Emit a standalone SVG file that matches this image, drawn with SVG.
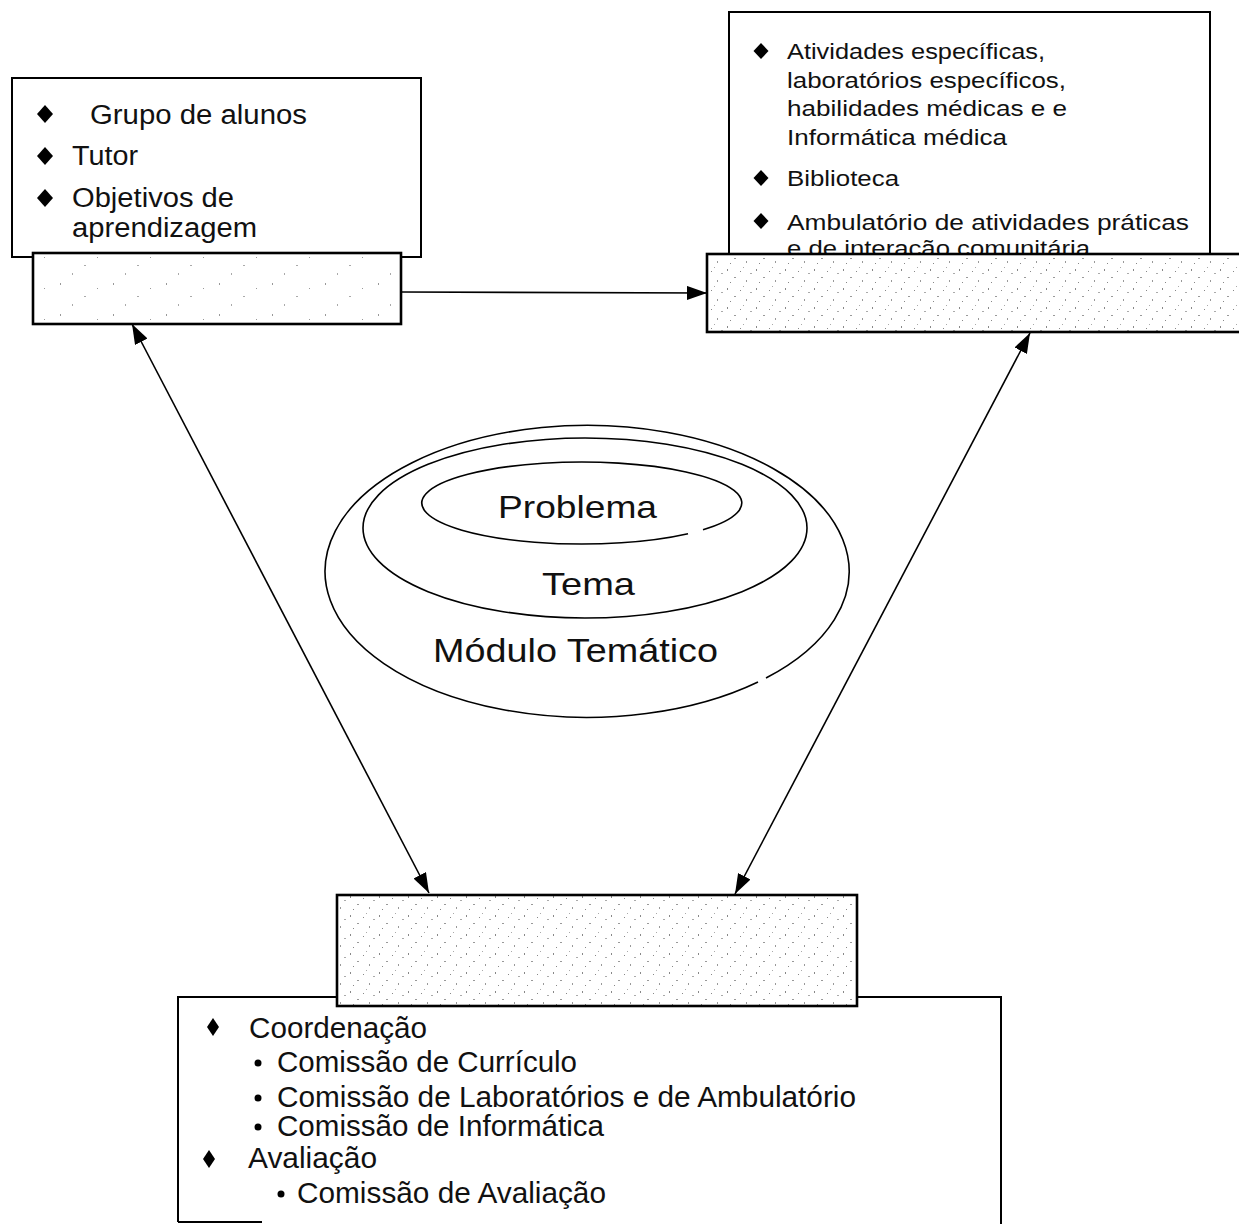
<svg xmlns="http://www.w3.org/2000/svg" width="1239" height="1224" viewBox="0 0 1239 1224">
  <style>
    .box { fill: #fff; stroke: #000; stroke-width: 2; }
    .shade { stroke: #000; stroke-width: 2.6; }
    .light { fill: url(#stippleLight); }
    .dense { fill: url(#stippleDense); }
    .t { font-family: "Liberation Sans", Arial, sans-serif; fill: #111; }
    .bullet { fill: #000; }
    .ring { fill: none; stroke: #000; stroke-width: 1.6; }
    .link { fill: none; stroke: #000; stroke-width: 1.6; }
  </style>
  <defs>
    <marker id="head" viewBox="0 0 20 14" markerUnits="userSpaceOnUse" markerWidth="20" markerHeight="14" refX="20" refY="7" orient="auto-start-reverse">
      <path d="M0,0 L20,7 L0,14 Z" fill="#000"/>
    </marker>
    <pattern id="stippleLight" width="53" height="31" patternUnits="userSpaceOnUse">
      <rect width="53" height="31" fill="#fff"/>
      <rect x="7" y="4" width="1" height="2" fill="#999"/>
      <rect x="31" y="17" width="2" height="1" fill="#aaa"/>
      <rect x="44" y="9" width="1" height="1" fill="#999"/>
      <rect x="19" y="25" width="1" height="2" fill="#aaa"/>
    </pattern>
    <pattern id="stippleDense" width="29" height="19" patternUnits="userSpaceOnUse">
      <rect width="29" height="19" fill="#fff"/>
      <rect x="2" y="3" width="1" height="2" fill="#888"/>
      <rect x="9" y="11" width="2" height="1" fill="#999"/>
      <rect x="15" y="5" width="1" height="1" fill="#888"/>
      <rect x="21" y="14" width="1" height="2" fill="#999"/>
      <rect x="25" y="7" width="2" height="1" fill="#aaa"/>
      <rect x="5" y="16" width="1" height="1" fill="#888"/>
      <rect x="18" y="1" width="1" height="1" fill="#aaa"/>
    </pattern>
  </defs>

  <!-- central nested ellipses -->
  <g id="modulo">
    <path class="ring" d="M766,678 A262,146 0 1 0 758,682"/>
    <ellipse class="ring" cx="585" cy="528" rx="222" ry="90"/>
    <path class="ring" d="M703,529.8 A160,41 0 1 0 688,533.7"/>
    <text class="t" x="498" y="518" font-size="32" textLength="159" lengthAdjust="spacingAndGlyphs">Problema</text>
    <text class="t" x="542" y="595" font-size="32" textLength="93" lengthAdjust="spacingAndGlyphs">Tema</text>
    <text class="t" x="433" y="662" font-size="34" textLength="285" lengthAdjust="spacingAndGlyphs">Módulo Temático</text>
  </g>

  <!-- top left: tutorial group -->
  <g id="grupo">
    <rect class="box" x="12" y="78" width="409" height="179"/>
    <polygon class="bullet" points="45,105 53,114 45,123 37,114"/>
    <polygon class="bullet" points="45,147 53,156 45,165 37,156"/>
    <polygon class="bullet" points="45,189 53,198 45,207 37,198"/>
    <text class="t" x="90" y="124" font-size="27" textLength="217" lengthAdjust="spacingAndGlyphs">Grupo de alunos</text>
    <text class="t" x="72" y="165" font-size="27" textLength="66" lengthAdjust="spacingAndGlyphs">Tutor</text>
    <text class="t" x="72" y="207" font-size="27" textLength="162" lengthAdjust="spacingAndGlyphs">Objetivos de</text>
    <text class="t" x="72" y="237" font-size="27" textLength="185" lengthAdjust="spacingAndGlyphs">aprendizagem</text>
  </g>
  <g id="grupo-label">
    <rect class="shade light" x="33" y="253" width="368" height="71"/>
  </g>

  <!-- top right: resources -->
  <g id="recursos">
    <rect class="box" x="729" y="12" width="481" height="260"/>
    <polygon class="bullet" points="761,43 768.5,51 761,59 753.5,51"/>
    <polygon class="bullet" points="761,170 768.5,178 761,186 753.5,178"/>
    <polygon class="bullet" points="761,213 768.5,221 761,229 753.5,221"/>
    <text class="t" x="787" y="59" font-size="22.5" textLength="258" lengthAdjust="spacingAndGlyphs">Atividades específicas,</text>
    <text class="t" x="787" y="88" font-size="22.5" textLength="279" lengthAdjust="spacingAndGlyphs">laboratórios específicos,</text>
    <text class="t" x="787" y="116" font-size="22.5" textLength="280" lengthAdjust="spacingAndGlyphs">habilidades médicas e e</text>
    <text class="t" x="787" y="145" font-size="22.5" textLength="220" lengthAdjust="spacingAndGlyphs">Informática médica</text>
    <text class="t" x="787" y="186" font-size="22.5" textLength="112" lengthAdjust="spacingAndGlyphs">Biblioteca</text>
    <text class="t" x="787" y="230" font-size="22.5" textLength="402" lengthAdjust="spacingAndGlyphs">Ambulatório de atividades práticas</text>
    <text class="t" x="787" y="256" font-size="22.5" textLength="303" lengthAdjust="spacingAndGlyphs">e de interação comunitária</text>
  </g>
  <g id="recursos-label">
    <rect class="shade dense" x="707" y="254" width="540" height="78"/>
  </g>

  <!-- bottom: management -->
  <g id="gestao">
    <path class="box" d="M178,1222 V997 H1001 V1226"/>
    <path d="M178,1222 H262" stroke="#000" stroke-width="2" fill="none"/>
    <polygon class="bullet" points="213,1018 219,1027 213,1036 207,1027"/>
    <circle class="bullet" cx="258" cy="1063" r="3.5"/>
    <circle class="bullet" cx="258" cy="1098" r="3.5"/>
    <circle class="bullet" cx="258" cy="1127" r="3.5"/>
    <polygon class="bullet" points="209,1150 215,1159 209,1168 203,1159"/>
    <circle class="bullet" cx="281" cy="1194" r="3.5"/>
    <text class="t" x="249" y="1038" font-size="29" textLength="178" lengthAdjust="spacingAndGlyphs">Coordenação</text>
    <text class="t" x="277" y="1072" font-size="29" textLength="300" lengthAdjust="spacingAndGlyphs">Comissão de Currículo</text>
    <text class="t" x="277" y="1107" font-size="29" textLength="579" lengthAdjust="spacingAndGlyphs">Comissão de Laboratórios e de Ambulatório</text>
    <text class="t" x="277" y="1136" font-size="29" textLength="327" lengthAdjust="spacingAndGlyphs">Comissão de Informática</text>
    <text class="t" x="248" y="1168" font-size="29" textLength="129" lengthAdjust="spacingAndGlyphs">Avaliação</text>
    <text class="t" x="297" y="1203" font-size="29" textLength="309" lengthAdjust="spacingAndGlyphs">Comissão de Avaliação</text>
  </g>
  <g id="gestao-label">
    <rect class="shade dense" x="337" y="895" width="520" height="111"/>
  </g>

  <!-- connectors -->
  <g id="connectors">
    <line class="link" x1="401" y1="292" x2="707" y2="293" marker-end="url(#head)"/>
    <line class="link" x1="132" y1="324" x2="429" y2="893" marker-start="url(#head)" marker-end="url(#head)"/>
    <line class="link" x1="1030" y1="333" x2="735" y2="894" marker-start="url(#head)" marker-end="url(#head)"/>
  </g>
</svg>
